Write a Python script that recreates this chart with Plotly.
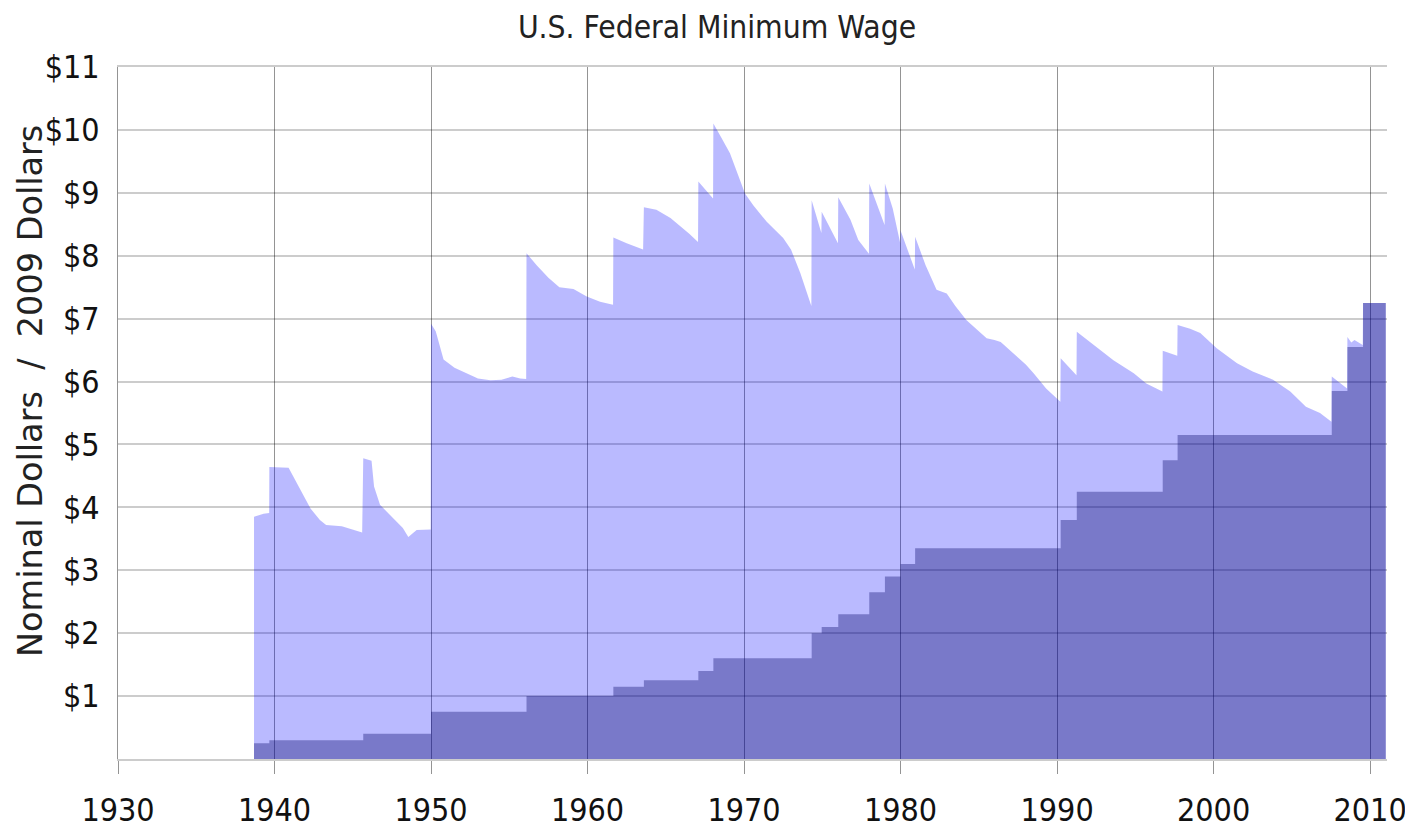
import plotly.graph_objects as go

# ---- data ----
nominal_years = [1938.69, 1939.67, 1945.67, 1950.0, 1956.1, 1961.65, 1963.6, 1967.08, 1968.04,
                 1974.32, 1974.96, 1976.02, 1978.0, 1979.0, 1980.0, 1980.93, 1990.23, 1991.26,
                 1996.75, 1997.7, 2007.55, 2008.55, 2009.55, 2011.0]
nominal_wage = [0.25, 0.30, 0.40, 0.75, 1.00, 1.15, 1.25, 1.40, 1.60,
                2.00, 2.10, 2.30, 2.65, 2.90, 3.10, 3.35, 3.80, 4.25,
                4.75, 5.15, 5.85, 6.55, 7.25, 7.25]

real_years = [1938.69, 1939.3, 1939.66, 1939.67, 1940.9, 1941.6, 1942.3, 1942.9, 1943.3, 1944.3, 1945.0, 1945.6,
              1945.67, 1946.2, 1946.36, 1946.74, 1947.38, 1948.0, 1948.2, 1948.55, 1949.08, 1949.98,
              1950.0, 1950.3, 1950.8, 1951.5, 1952.0, 1953.0, 1953.8, 1954.5, 1955.2, 1955.7, 1956.08,
              1956.1, 1956.75, 1957.5, 1958.2, 1959.1, 1959.95, 1960.8, 1961.63,
              1961.65, 1962.5, 1963.55,
              1963.6, 1964.4, 1965.3, 1966.0, 1966.5, 1967.06,
              1967.08, 1968.02,
              1968.04, 1968.5, 1969.1, 1970.06, 1970.6, 1971.45, 1972.5, 1973.0, 1973.6, 1974.3,
              1974.32, 1974.94,
              1974.96, 1976.0,
              1976.02, 1976.8, 1977.3, 1977.98,
              1978.0, 1978.98,
              1979.0, 1979.5, 1979.98,
              1980.0, 1980.5, 1980.91,
              1980.93, 1981.6, 1982.3, 1982.95, 1983.5, 1984.2, 1985.0, 1985.5, 1986.0, 1986.4,
              1987.2, 1988.0, 1988.5, 1989.3, 1990.21,
              1990.23, 1991.24,
              1991.26, 1992.0, 1992.75, 1993.6, 1994.9, 1995.7, 1996.73,
              1996.75, 1997.68,
              1997.7, 1998.5, 1999.15, 2000.2, 2001.5, 2002.5, 2003.8, 2004.9, 2005.9, 2006.8, 2007.53,
              2007.55, 2008.53,
              2008.55, 2008.8, 2009.0, 2009.53,
              2009.55, 2011.0]
real_wage = [3.85, 3.90, 3.91, 4.64, 4.63, 4.30, 3.98, 3.80, 3.72, 3.70, 3.65, 3.60,
             4.78, 4.74, 4.33, 4.04, 3.88, 3.72, 3.67, 3.53, 3.64, 3.65,
             6.92, 6.80, 6.35, 6.22, 6.16, 6.05, 6.02, 6.03, 6.08, 6.05, 6.04,
             8.04, 7.85, 7.65, 7.50, 7.47, 7.35, 7.27, 7.22,
             8.29, 8.20, 8.10,
             8.77, 8.73, 8.60, 8.46, 8.35, 8.22,
             9.18, 8.91,
             10.10, 9.90, 9.63, 8.99, 8.80, 8.54, 8.28, 8.10, 7.72, 7.20,
             8.88, 8.36,
             8.70, 8.20,
             8.93, 8.57, 8.25, 8.03,
             9.15, 8.49,
             9.15, 8.75, 8.20,
             8.40, 8.05, 7.78,
             8.30, 7.85, 7.46, 7.40, 7.20, 6.98, 6.80, 6.69, 6.66, 6.63,
             6.45, 6.27, 6.13, 5.89, 5.68,
             6.37, 6.10,
             6.79, 6.65, 6.50, 6.34, 6.13, 5.97, 5.84,
             6.49, 6.41,
             6.90, 6.84, 6.77, 6.53, 6.29, 6.16, 6.03, 5.84, 5.60, 5.50, 5.36,
             6.08, 5.89,
             6.71, 6.62, 6.66, 6.58,
             7.25, 7.25]

x_ticks = [1930, 1940, 1950, 1960, 1970, 1980, 1990, 2000, 2010]
y_ticks = list(range(0, 12))
y_labels = [""] + ["$%d" % v for v in range(1, 12)]

TICK_FONT = dict(family="DejaVu Sans Condensed, DejaVu Sans", size=32, color="#111")
VGRID = "rgba(0,0,0,0.42)"
HGRID = "rgba(0,0,0,0.2)"

# page body has an 8px margin: figure is sized to fit the 1413x832 window
W, H = 1405, 824

fig = go.Figure()
fig.add_trace(go.Scatter(
    x=real_years, y=real_wage, mode="lines", line=dict(width=0, color="rgba(0,0,255,0.27)"),
    fill="tozeroy", fillcolor="rgba(0,0,255,0.27)", hoverinfo="skip", showlegend=False,
))
fig.add_trace(go.Scatter(
    x=nominal_years, y=nominal_wage, mode="lines", line=dict(width=0, shape="hv", color="rgba(0,0,100,0.35)"),
    fill="tozeroy", fillcolor="rgba(0,0,100,0.35)", hoverinfo="skip", showlegend=False,
))

fig.update_layout(
    width=W, height=H,
    margin=dict(l=110, r=26, t=59, b=73, pad=0),
    plot_bgcolor="white", paper_bgcolor="white",
    title=dict(text="U.S. Federal Minimum Wage", x=709 / W, xanchor="center",
               y=1 - 19 / H, yanchor="middle",
               font=dict(family="DejaVu Sans Condensed, DejaVu Sans", size=31.5, color="#222")),
    xaxis=dict(range=[1930, 2011.08], tickvals=x_ticks, ticktext=[str(v) for v in x_ticks],
               showgrid=True, gridcolor=VGRID, gridwidth=1,
               ticks="outside", ticklen=13, tickwidth=1, tickcolor=VGRID,
               showline=True, mirror=True, linecolor=HGRID, linewidth=1.5,
               zeroline=False, tickfont=TICK_FONT, ticklabelstandoff=9, automargin=False),
    yaxis=dict(range=[0, 11], tickvals=y_ticks, ticktext=y_labels,
               showgrid=True, gridcolor=HGRID, gridwidth=1.5,
               ticks="", showline=True, mirror=False, linecolor=VGRID, linewidth=1,
               zeroline=False, tickfont=TICK_FONT, ticklabelstandoff=11, automargin=False),
    annotations=[dict(
        text="Nominal Dollars\u00a0\u00a0/\u00a0\u00a02009 Dollars", textangle=-90,
        xref="paper", yref="paper", x=(22 - 110) / 1269, y=(751 - 383) / 692,
        xanchor="center", yanchor="middle", showarrow=False,
        font=dict(family="DejaVu Sans", size=33.5, color="#222"),
    )],
)

fig.write_html("out.html")
